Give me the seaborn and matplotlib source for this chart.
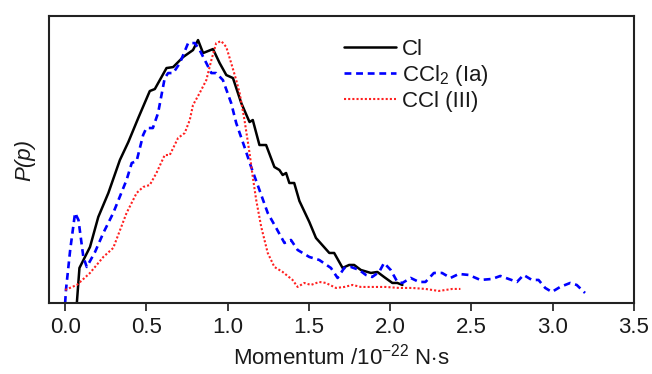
import matplotlib
matplotlib.use("Agg")

import numpy as np
import pandas as pd
import matplotlib.pyplot as plt
import seaborn as sns
from matplotlib.ticker import MultipleLocator

# ===============================
# data (momentum, relative P(p))
# ===============================
cl_x = [0.072, 0.088, 0.153, 0.204, 0.266, 0.337, 0.389, 0.45, 0.521, 0.552,
        0.624, 0.665, 0.726, 0.787, 0.818, 0.849, 0.91, 0.951, 0.992, 1.033,
        1.084, 1.135, 1.155, 1.196, 1.237, 1.288, 1.319, 1.339, 1.36, 1.38,
        1.41, 1.442, 1.503, 1.544, 1.626, 1.656, 1.708, 1.748, 1.779, 1.82,
        1.882, 1.922, 1.963, 2.014, 2.045, 2.076]
cl_y = [0, 35, 56, 86, 110, 143, 161, 185, 212, 214,
        235, 236, 246, 253, 263, 250, 254, 240, 228, 225,
        200, 181, 183, 158, 158, 136, 133, 128, 130, 120,
        120, 102, 81, 65, 50, 50, 35, 38, 38, 33,
        30, 31, 26, 20, 20, 18]

ccl2_x = [0.0, 0.005, 0.031, 0.061, 0.082, 0.112, 0.133, 0.184, 0.235, 0.296,
          0.378, 0.41, 0.44, 0.48, 0.5, 0.54, 0.572, 0.613, 0.634, 0.665,
          0.706, 0.757, 0.798, 0.828, 0.869, 0.9, 0.93, 0.971, 1.022, 1.053,
          1.104, 1.145, 1.196, 1.247, 1.299, 1.35, 1.39, 1.431, 1.503, 1.564,
          1.636, 1.677, 1.718, 1.759, 1.81, 1.851, 1.89, 1.933, 1.963, 2.004,
          2.045, 2.076, 2.127, 2.178, 2.218, 2.27, 2.32, 2.372, 2.423, 2.485,
          2.556, 2.628, 2.679, 2.73, 2.781, 2.822, 2.873, 2.914, 2.955, 2.996,
          3.047, 3.109, 3.149, 3.2]
ccl2_y = [0, 13, 53, 90, 83, 46, 36, 51, 70, 90,
          123, 140, 142, 168, 175, 175, 190, 225, 230, 230,
          240, 260, 260, 253, 240, 230, 230, 223, 200, 180,
          156, 136, 113, 90, 75, 60, 63, 53, 46, 43,
          35, 25, 35, 36, 33, 28, 26, 31, 40, 33,
          21, 20, 25, 21, 21, 30, 30, 25, 29, 28,
          23, 24, 27, 24, 21, 28, 23, 23, 15, 11,
          16, 20, 18, 10]

ccl_x = [0.0, 0.072, 0.153, 0.235, 0.296, 0.378, 0.44, 0.48, 0.521, 0.562,
         0.613, 0.644, 0.695, 0.736, 0.767, 0.787, 0.828, 0.869, 0.9, 0.93,
         0.961, 0.992, 1.022, 1.053, 1.074, 1.104, 1.135, 1.155, 1.176, 1.207,
         1.247, 1.288, 1.339, 1.4, 1.431, 1.472, 1.513, 1.564, 1.605, 1.667,
         1.718, 1.769, 1.82, 1.89, 1.974, 2.055, 2.137, 2.218, 2.3, 2.383, 2.433]
ccl_y = [13, 18, 30, 46, 55, 90, 110, 116, 118, 130,
         148, 148, 165, 170, 183, 198, 210, 223, 243, 260,
         262, 256, 240, 223, 210, 183, 150, 126, 103, 76,
         50, 36, 31, 23, 16, 20, 18, 21, 20, 15,
         16, 18, 16, 16, 16, 15, 15, 14, 12, 14, 14]

labels = ['Cl', 'CCl$_2$ (Ia)', 'CCl (III)']
xticks = [0.0, 0.5, 1.0, 1.5, 2.0, 2.5, 3.0, 3.5]

# ===============================
# style
# ===============================
sns.set_style('white')
plt.rcParams['font.family'] = ['Liberation Sans', 'DejaVu Sans']
plt.rcParams['mathtext.fontset'] = 'custom'
plt.rcParams['mathtext.rm'] = 'Liberation Sans'
plt.rcParams['mathtext.it'] = 'Liberation Sans:italic'
plt.rcParams['text.color'] = '#1a1a1a'
plt.rcParams['axes.labelcolor'] = '#1a1a1a'

fig = plt.figure(figsize=(6.52, 3.74), dpi=100)
ax = fig.add_axes([0.075, 0.19, 0.897, 0.767])

sns.lineplot(x=cl_x, y=cl_y, ax=ax, color='black', lw=1.8,
             sort=False, estimator=None, label=labels[0])
sns.lineplot(x=ccl2_x, y=ccl2_y, ax=ax, color='#0000ff', lw=1.9,
             linestyle=(0, (2.6, 1.8)), sort=False, estimator=None, label=labels[1])
sns.lineplot(x=ccl_x, y=ccl_y, ax=ax, color='#ff2020', lw=1.5,
             linestyle=(0, (1, 1)), sort=False, estimator=None, label=labels[2])

ax.set_xlim(-0.1, 3.5)
ax.set_ylim(0, 287)
ax.set_xticks(xticks)
ax.set_xticklabels([f'{t:.1f}' for t in xticks])
ax.xaxis.set_minor_locator(MultipleLocator(0.1))
ax.set_yticks([])
ax.tick_params(axis='x', which='major', direction='out', length=6, width=1.2,
               labelsize=16, colors='#1a1a1a', pad=4)
ax.tick_params(axis='x', which='minor', direction='out', length=3.5, width=1.1,
               colors='#1a1a1a')
ax.tick_params(axis='x', bottom=True)

for s in ax.spines.values():
    s.set_linewidth(1.5)
    s.set_color('#222222')

ax.set_xlabel('Momentum /10$^{-22}$ N$\\cdot$s', fontsize=16, labelpad=4)
ax.set_ylabel('P(p)', fontsize=16, style='italic', labelpad=10)

ax.legend(loc='upper left', bbox_to_anchor=(0.470, 0.989), frameon=False,
          fontsize=16, handlelength=2.35, handletextpad=0.25, labelspacing=0.12,
          borderpad=0.4)

fig.savefig('out.png', dpi=100)
plt.close(fig)
